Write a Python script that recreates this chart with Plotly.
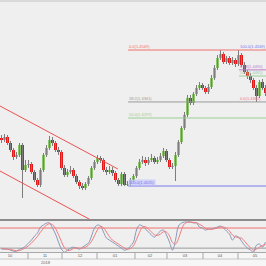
import plotly.graph_objects as go

# ---------------- data ----------------
opens = [1.4217, 1.4209, 1.4221, 1.4197, 1.4169, 1.4141, 1.4149, 1.4189, 1.4089, 1.4109,
         1.4113, 1.4081, 1.4049, 1.4029, 1.4089, 1.4149, 1.4177, 1.4209, 1.4197, 1.4169,
         1.4161, 1.4097, 1.4069, 1.4081, 1.4089, 1.4065, 1.4041, 1.4025, 1.4017, 1.4033,
         1.4057, 1.4097, 1.4121, 1.4137, 1.4129, 1.4089, 1.4081, 1.4089, 1.4077, 1.4049,
         1.4033, 1.4073, 1.4029, 1.4033, 1.4049, 1.4065, 1.4097, 1.4121, 1.4129, 1.4117,
         1.4129, 1.4137, 1.4121, 1.4129, 1.4145, 1.4165, 1.4129, 1.4101, 1.4105, 1.4149,
         1.4201, 1.4257, 1.4309, 1.4377, 1.4357, 1.4393, 1.4417, 1.4429, 1.4417, 1.4401,
         1.4421, 1.4457, 1.4497, 1.4537, 1.4553, 1.4521, 1.4537, 1.4517, 1.4529, 1.4513,
         1.4549, 1.4509, 1.4481, 1.4465, 1.4449, 1.4417, 1.4385, 1.4441, 1.4417]
highs = [1.4229, 1.4233, 1.4229, 1.4205, 1.4177, 1.4161, 1.4197, 1.4197, 1.4129, 1.4129,
         1.4121, 1.4089, 1.4057, 1.4097, 1.4157, 1.4189, 1.4225, 1.4221, 1.4205, 1.4181,
         1.4169, 1.4109, 1.4093, 1.4105, 1.4097, 1.4073, 1.4049, 1.4037, 1.4041, 1.4065,
         1.4105, 1.4129, 1.4149, 1.4145, 1.4137, 1.4101, 1.4105, 1.4101, 1.4085, 1.4057,
         1.4081, 1.4081, 1.4045, 1.4057, 1.4073, 1.4105, 1.4133, 1.4145, 1.4141, 1.4141,
         1.4153, 1.4145, 1.4141, 1.4157, 1.4177, 1.4173, 1.4137, 1.4117, 1.4161, 1.4209,
         1.4265, 1.4321, 1.4389, 1.4389, 1.4401, 1.4429, 1.4441, 1.4437, 1.4425, 1.4433,
         1.4469, 1.4509, 1.4549, 1.4569, 1.4561, 1.4545, 1.4545, 1.4541, 1.4537, 1.4569,
         1.4557, 1.4521, 1.4489, 1.4477, 1.4457, 1.4429, 1.4449, 1.4453, 1.4429]
lows = [1.4197, 1.4201, 1.4189, 1.4161, 1.4129, 1.4133, 1.4141, 1.3977, 1.4081, 1.4097,
        1.4073, 1.4041, 1.4021, 1.4021, 1.4081, 1.4141, 1.4169, 1.4185, 1.4161, 1.4149,
        1.4089, 1.4061, 1.4061, 1.4073, 1.4057, 1.4033, 1.4013, 1.4009, 1.4009, 1.4025,
        1.4049, 1.4089, 1.4113, 1.4117, 1.4081, 1.4069, 1.4073, 1.4065, 1.4041, 1.4025,
        1.4025, 1.4025, 1.4025, 1.4025, 1.4041, 1.4057, 1.4089, 1.4113, 1.4105, 1.4109,
        1.4121, 1.4113, 1.4113, 1.4121, 1.4137, 1.4121, 1.4093, 1.4093, 1.4045, 1.4141,
        1.4193, 1.4249, 1.4301, 1.4349, 1.4349, 1.4385, 1.4409, 1.4409, 1.4393, 1.4393,
        1.4413, 1.4449, 1.4489, 1.4529, 1.4513, 1.4513, 1.4509, 1.4509, 1.4501, 1.4505,
        1.4501, 1.4473, 1.4453, 1.4437, 1.4409, 1.4361, 1.4377, 1.4409, 1.4385]
closes = [1.4209, 1.4221, 1.4197, 1.4169, 1.4141, 1.4149, 1.4189, 1.4089, 1.4109, 1.4113,
          1.4081, 1.4049, 1.4029, 1.4089, 1.4149, 1.4177, 1.4209, 1.4197, 1.4169, 1.4161,
          1.4097, 1.4069, 1.4081, 1.4089, 1.4065, 1.4041, 1.4025, 1.4017, 1.4033, 1.4057,
          1.4097, 1.4121, 1.4137, 1.4129, 1.4089, 1.4081, 1.4089, 1.4077, 1.4049, 1.4033,
          1.4073, 1.4029, 1.4033, 1.4049, 1.4065, 1.4097, 1.4121, 1.4129, 1.4117, 1.4129,
          1.4137, 1.4121, 1.4129, 1.4145, 1.4165, 1.4129, 1.4101, 1.4105, 1.4149, 1.4201,
          1.4257, 1.4309, 1.4377, 1.4357, 1.4393, 1.4417, 1.4429, 1.4417, 1.4401, 1.4421,
          1.4457, 1.4497, 1.4537, 1.4553, 1.4521, 1.4537, 1.4517, 1.4529, 1.4513, 1.4549,
          1.4509, 1.4481, 1.4465, 1.4449, 1.4417, 1.4385, 1.4441, 1.4417, 1.4397]

stoch_k = [17, 17, 17, 14, 11, 11, 17, 20, 26, 35, 44, 56, 65, 83, 89, 95, 95, 80, 62, 38,
           17, 8, 14, 20, 23, 20, 17, 23, 29, 35, 56, 80, 89, 86, 68, 50, 44, 38, 32, 26,
           20, 14, 17, 26, 38, 74, 89, 86, 77, 68, 59, 53, 62, 71, 74, 59, 38, 14, 44, 86,
           95, 98, 98, 98, 95, 95, 83, 80, 74, 77, 77, 80, 83, 86, 80, 71, 62, 44, 56, 53,
           41, 29, 20, 14, 8, 29, 32, 23, 38]
stoch_d = [20, 18, 17, 16, 14, 12, 13, 16, 21, 27, 35, 45, 55, 68, 79, 89, 93, 90, 79, 60,
           39, 21, 13, 14, 19, 21, 20, 20, 23, 29, 40, 57, 75, 85, 81, 68, 54, 44, 38, 32,
           26, 20, 17, 19, 27, 46, 67, 83, 84, 77, 68, 60, 58, 62, 69, 68, 57, 37, 32, 48,
           75, 93, 97, 98, 97, 96, 91, 86, 79, 77, 76, 78, 80, 83, 83, 79, 71, 59, 54, 51,
           50, 41, 30, 21, 14, 17, 23, 28, 31]
stoch_levels = [80, 20]

tick_labels = ["10", "11", "12", "01", "02", "03", "04", "05"]
tick_positions = [2.83, 14.5, 26.17, 37.83, 49.5, 61.17, 72.83, 84.5]
divider_positions = [8.83, 20.17, 31.83, 44.5, 55.17, 67.17, 78.83]
year_label = "2018"

# trend channel anchors (candle index, price)
upper_channel_x = [-0.5, 38.8]
upper_channel_y = [1.4345, 1.4093]
lower_channel_x = [-0.5, 40.0]
lower_channel_y = [1.4085, 1.3823]

# Fibonacci retracements
fibA_high, fibA_low, fibA_start = 1.4569, 1.4025, 42.2
fibA_levels = [0.0, 38.2, 50.0, 100.0]
fibA_colors = ["#f07070", "#9a9a9a", "#9ccc96", "#7878ee"]
fibB_high, fibB_low, fibB_start = 1.4569, 1.4361, 79.2
fibB_levels = [100.0, 61.8, 50.0, 0.0]
fibB_colors = ["#7878ee", "#c07ac8", "#9ccc96", "#f07070"]

# ---------------- figure ----------------
n = len(closes)
idx = list(range(n))
x_end = 88.17

fig = go.Figure()

# wicks
wx, wy = [], []
for i in idx:
    wx += [i, i, None]
    wy += [lows[i], highs[i], None]
fig.add_trace(go.Scatter(x=wx, y=wy, mode="lines", line=dict(color="#7d7d7d", width=1),
                         hoverinfo="skip", showlegend=False))
# bodies
base = [min(o, c) for o, c in zip(opens, closes)]
height = [max(abs(c - o), 0.00015) for o, c in zip(opens, closes)]
cols = ["#8dc56c" if c >= o else "#e01a1a" for o, c in zip(opens, closes)]
fig.add_trace(go.Bar(x=idx, base=base, y=height, width=0.68,
                     marker=dict(color=cols, line=dict(width=0)),
                     showlegend=False, hoverinfo="skip"))

# channel lines
fig.add_trace(go.Scatter(x=upper_channel_x, y=upper_channel_y, mode="lines",
                         line=dict(color="#ee5050", width=1), showlegend=False))
fig.add_trace(go.Scatter(x=lower_channel_x, y=lower_channel_y, mode="lines",
                         line=dict(color="#ee5050", width=1), showlegend=False))

annotations = []
# fib A
for lev, col in zip(fibA_levels, fibA_colors):
    p = fibA_high - lev / 100 * (fibA_high - fibA_low)
    fig.add_trace(go.Scatter(x=[fibA_start, x_end], y=[p, p], mode="lines",
                             line=dict(color=col, width=1), showlegend=False))
    annotations.append(dict(x=fibA_start, y=p, xref="x", yref="y", xanchor="left",
                            yanchor="bottom", showarrow=False,
                            text=f"{lev:.1f}({p:.4f})",
                            font=dict(size=4, color=col, family="Arial"),
                            bgcolor="rgba(200,200,255,0.7)" if lev == 100.0 else None,
                            borderpad=0))
# fib B
for lev, col in zip(fibB_levels, fibB_colors):
    p = fibB_low + lev / 100 * (fibB_high - fibB_low)
    if lev not in (0.0, 100.0):
        fig.add_trace(go.Scatter(x=[fibB_start, x_end], y=[p, p], mode="lines",
                                 line=dict(color=col, width=1), showlegend=False))
    annotations.append(dict(x=fibB_start, y=p, xref="x", yref="y", xanchor="left",
                            yanchor="bottom", showarrow=False,
                            text=f"{lev:.1f}({p:.4f})",
                            font=dict(size=4, color=col, family="Arial"), borderpad=0))

# stochastic
fig.add_trace(go.Scatter(x=[-0.5, x_end], y=[stoch_levels[0]] * 2, yaxis="y2", mode="lines",
                         line=dict(color="#f07070", width=1), showlegend=False))
fig.add_trace(go.Scatter(x=[-0.5, x_end], y=[stoch_levels[1]] * 2, yaxis="y2", mode="lines",
                         line=dict(color="#9a9a9a", width=1), showlegend=False))
fig.add_trace(go.Scatter(x=idx, y=stoch_k, yaxis="y2", mode="lines", line_shape="spline",
                         line=dict(color="#8898b8", width=1), showlegend=False))
fig.add_trace(go.Scatter(x=idx, y=stoch_d, yaxis="y2", mode="lines", line_shape="spline",
                         line=dict(color="#f07c7c", width=1), showlegend=False))

annotations.append(dict(x=0.15, y=0.0, xref="paper", yref="paper", yanchor="bottom",
                        text=year_label, showarrow=False, borderpad=0,
                        font=dict(size=4, color="#666", family="Arial")))

H = 266.0
def py(pix):
    return 1 - pix / H

shapes = [
    dict(type="rect", xref="paper", yref="paper", x0=0, x1=1, y0=0, y1=py(252.5),
         fillcolor="#f6f6f6", line=dict(width=0), layer="below"),
    dict(type="rect", xref="paper", yref="paper", x0=0, x1=1, y0=py(2), y1=1,
         fillcolor="#d9d9d9", line=dict(width=0)),
    dict(type="line", xref="paper", yref="paper", x0=0, x1=1, y0=py(220), y1=py(220),
         line=dict(color="#8c8c8c", width=2)),
    dict(type="line", xref="paper", yref="paper", x0=0, x1=1, y0=py(252.5), y1=py(252.5),
         line=dict(color="#a8a8a8", width=1)),
    dict(type="line", xref="paper", yref="paper", x0=0, x1=1, y0=py(259), y1=py(259),
         line=dict(color="#c8c8c8", width=1)),
]
for d in divider_positions:
    shapes.append(dict(type="line", xref="x", yref="paper", x0=d, x1=d, y0=py(259),
                       y1=py(252.5), line=dict(color="#a8a8a8", width=1)))

fig.update_layout(
    width=266, height=266, margin=dict(l=0, r=0, t=0, b=0),
    paper_bgcolor="#efefef", plot_bgcolor="#efefef",
    bargap=0, showlegend=False,
    xaxis=dict(range=[-0.5, x_end], domain=[0, 1], anchor="free", position=py(252.5),
               showgrid=False, zeroline=False, showline=False,
               tickmode="array", tickvals=tick_positions, ticktext=tick_labels,
               ticks="", ticklabelstandoff=-1,
               tickfont=dict(size=4, color="#555", family="Arial")),
    yaxis=dict(range=[1.3893, 1.4757], domain=[py(219), py(3)], showgrid=False,
               zeroline=False, showticklabels=False, showline=False),
    yaxis2=dict(range=[7, 104], domain=[py(252.5), py(220)], showgrid=False,
                zeroline=False, showticklabels=False, showline=False, anchor="x"),
    shapes=shapes, annotations=annotations,
)

fig.write_html("out.html")
